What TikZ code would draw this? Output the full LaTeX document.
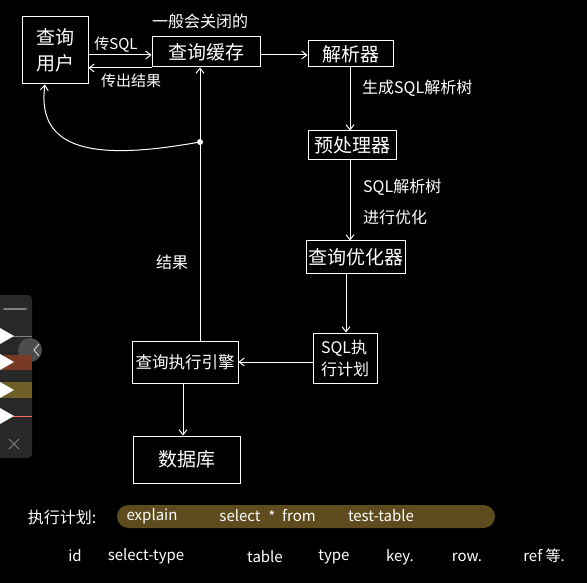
\documentclass[tikz,border=0pt]{standalone}
\usepackage{fontspec}
\setmainfont{Noto Sans CJK SC}
\usetikzlibrary{arrows.meta,calc,positioning}
\definecolor{pillcolor}{RGB}{94,76,30}
\definecolor{barcolor}{RGB}{40,40,40}
\definecolor{penbrown}{RGB}{120,58,34}
\definecolor{penolive}{RGB}{112,96,40}
\begin{document}
\begin{tikzpicture}[x=1pt,y=-1pt,
  box/.style={draw=white,line width=1pt,text=white,inner sep=0pt,
    font=\fontsize{19}{26}\selectfont},
  arr/.style={white,line width=1pt,-{Straight Barb[length=5pt,width=8pt]}},
  lbl/.style={text=white,inner sep=0pt,font=\fontsize{15}{18}\selectfont},
  hand/.style={text=white,inner sep=0pt,font=\fontsize{15}{18}\selectfont}]
  \fill[black] (0,0) rectangle (587,583);
  \useasboundingbox (0,0) rectangle (587,583);
  % ---- boxes
  \node[box,minimum width=66pt,minimum height=67pt,align=left] (user) at (55,50.5) {查询\\用户};
  \node[box,minimum width=108pt,minimum height=30pt] (cache) at (206,52) {查询缓存};
  \node[box,minimum width=85pt,minimum height=26pt] (parser) at (350.5,54) {解析器};
  \node[box,minimum width=88pt,minimum height=29pt] (prep) at (352,145.5) {预处理器};
  \node[box,minimum width=99pt,minimum height=32pt] (opt) at (355.5,257) {查询优化器};
  \node[box,minimum width=64pt,minimum height=50pt,align=left,
    font=\fontsize{16}{22}\selectfont] (plan) at (345,358) {SQL执\\行计划};
  \node[box,minimum width=106pt,minimum height=42pt,
    font=\fontsize{16.5}{20}\selectfont] (engine) at (185,362) {查询执行引擎};
  \node[box,minimum width=107pt,minimum height=47pt] (db) at (186.5,459.5) {数据库};
  % ---- connectors
  \draw[arr] (user.east |- 0,55) -- (cache.west |- 0,55);
  \draw[arr] (cache.west |- 0,68) -- (user.east |- 0,68);
  \draw[arr] (cache.east |- 0,55) -- (parser.west |- 0,55);
  \draw[arr] (parser.south -| 350,0) -- (prep.north -| 350,0);
  \draw[arr] (prep.south -| 350,0) -- (opt.north -| 350,0);
  \draw[arr] (opt.south -| 346,0) -- (plan.north -| 346,0);
  \draw[arr] (plan.west |- 0,362) -- (engine.east |- 0,362);
  \draw[arr] (engine.south -| 183,0) -- (db.north -| 183,0);
  \draw[arr] (engine.north -| 200,0) -- (cache.south -| 200,0);
  \coordinate (res) at (200,142);
  \fill[white] (res) circle (3pt);
  \draw[arr] (res) .. controls (110,158) and (35,158) .. (user.south -| 45,0);
  % ---- labels
  \node[lbl] (lsql) at (116,45) {传SQL};
  \node[lbl] (lout) at (131,81) {传出结果};
  \node[lbl,font=\fontsize{16}{19}\selectfont] (lclose) at (200,21) {一般会关闭的};
  \node[lbl,anchor=west,font=\fontsize{16}{19}\selectfont] (ltree) at (362,88) {生成SQL解析树};
  \node[lbl,anchor=west,font=\fontsize{16}{19}\selectfont] (lopt1) at (363,187) {SQL解析树};
  \node[lbl,anchor=west,font=\fontsize{16}{19}\selectfont] (lopt2) at (363,217) {进行优化};
  \node[lbl,font=\fontsize{16}{19}\selectfont] (lres) at (172,262) {结果};
  % ---- execution plan
  \node[lbl,font=\fontsize{16}{19}\selectfont] (lplan) at (62,517) {执行计划:};
  \node[fill=pillcolor,rounded corners=11.5pt,minimum width=378pt,minimum height=23pt,
    inner sep=0pt] (pill) at (306,516.5) {};
  \node[hand] (sexp) at (152,516) {explain};
  \node[hand] (ssel) at (240,516) {select};
  \node[hand] (sstar) at (272,517) {*};
  \node[hand] (sfrom) at (299,516) {from};
  \node[hand] (stab) at (381,516) {test-table};
  \node[hand] (cid) at (75,556) {id};
  \node[hand] (cst) at (146,556) {select-type};
  \node[hand] (ctab) at (265,557) {table};
  \node[hand] (ctype) at (334,557) {type};
  \node[hand] (ckey) at (400,557) {key.};
  \node[hand] (crow) at (467,557) {row.};
  \node[hand] (cref) at (544,556) {ref 等.};
  % ---- side toolbar
  \fill[barcolor,rounded corners=4pt] (-6,295) rectangle (32,458);
  \draw[gray,line width=2pt,line cap=round] (4,309) -- (26,309);
  \fill[black!70] (30,350) circle (12pt);
  \draw[white!80!black,line width=1pt] (39,344) -- (34,350) -- (39,356);
  \fill[penbrown] (0,355) rectangle (32,370);
  \fill[penolive] (0,382) rectangle (32,398);
  \draw[gray] (10,336) -- (32,336);
  \draw[red!60!white] (10,416) -- (32,416);
  \foreach \y in {336,362,390,416}
    \fill[white] (0,\y-8) -- (14,\y) -- (0,\y+8) -- cycle;
  \draw[gray,line width=1pt] (9,439) -- (19,449) (19,439) -- (9,449);
\end{tikzpicture}
\end{document}
